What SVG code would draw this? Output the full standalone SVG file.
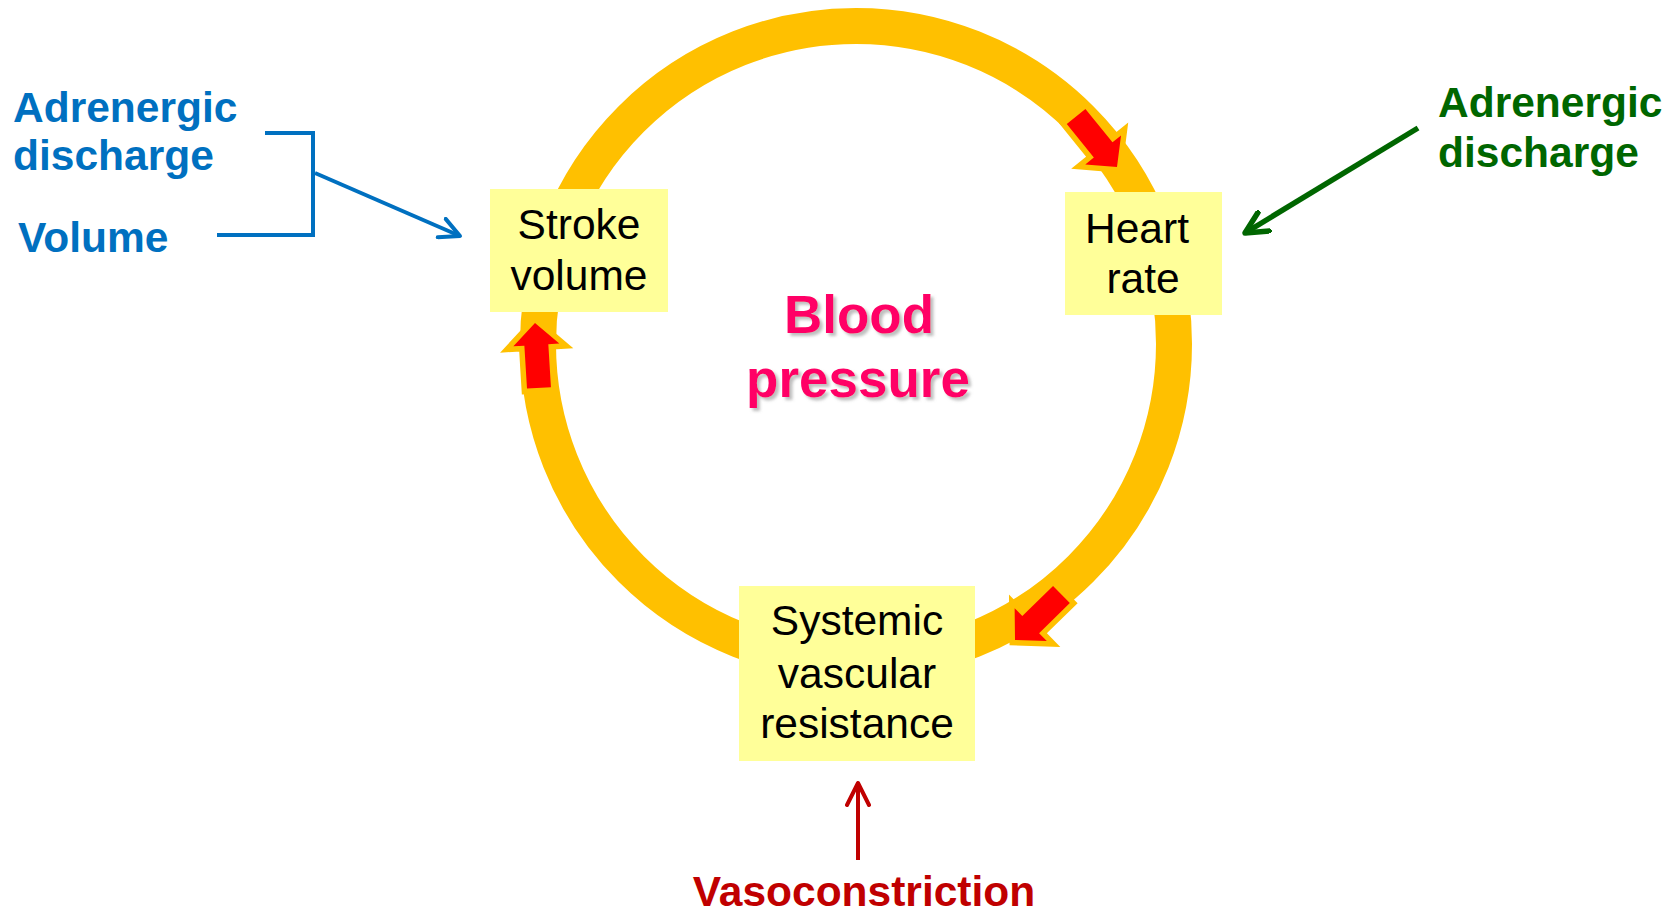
<svg xmlns="http://www.w3.org/2000/svg" width="1675" height="915" viewBox="0 0 1675 915">
<defs>
<style>
.box{fill:#FFFF99}
.nt{font-family:"Liberation Sans",Arial,sans-serif;font-size:42.5px;fill:#000;text-anchor:middle}
.lb{font-family:"Liberation Sans",Arial,sans-serif;font-size:42.5px;font-weight:bold}
.blue{fill:#0070C0}
.green{fill:#006600}
.dred{fill:#C00000}
.bp{font-family:"Liberation Sans",Arial,sans-serif;font-size:53px;font-weight:bold;fill:#FF0066;text-anchor:middle}
.ring{fill:none;stroke:#FFC000;stroke-width:36}
.blk{fill:#FF0000;stroke:#FFC000;stroke-width:11;stroke-linejoin:miter;stroke-miterlimit:6;paint-order:stroke}
</style>
<marker id="mBlue" viewBox="0 0 26 24" markerWidth="26" markerHeight="24" refX="22" refY="12" orient="auto" markerUnits="userSpaceOnUse">
<path d="M2,2 L22,12 L2,22" fill="none" stroke="#0070C0" stroke-width="4" stroke-linecap="round" stroke-linejoin="round"/>
</marker>
<marker id="mGreen" viewBox="0 0 28 26" markerWidth="28" markerHeight="26" refX="24" refY="13" orient="auto" markerUnits="userSpaceOnUse">
<path d="M2,2 L24,13 L2,24" fill="none" stroke="#006600" stroke-width="5.5" stroke-linecap="round" stroke-linejoin="round"/>
</marker>
<marker id="mRed" viewBox="0 0 26 26" markerWidth="26" markerHeight="26" refX="24" refY="13" orient="auto" markerUnits="userSpaceOnUse">
<path d="M2,2 L24,13 L2,24" fill="none" stroke="#C00000" stroke-width="4" stroke-linecap="round" stroke-linejoin="round"/>
</marker>
<filter id="shadow" x="-10%" y="-10%" width="130%" height="140%">
<feDropShadow dx="3" dy="3" stdDeviation="1.5" flood-color="#888" flood-opacity="0.55"/>
</filter>
<path id="blockArrow" d="M0,0 L23,22 L12,22 L12,65 L-12,65 L-12,22 L-23,22 Z"/>
</defs>
<rect width="1675" height="915" fill="#fff"/>

<g id="cycle">
<circle class="ring" cx="856" cy="344" r="318"/>
<use href="#blockArrow" class="blk" transform="translate(535,323) rotate(-3.5)"/>
<use href="#blockArrow" class="blk" transform="translate(1117,167) rotate(141)"/>
<use href="#blockArrow" class="blk" transform="translate(1015,640) rotate(-134.4)"/>
</g>

<g id="connectors">
<polyline points="265,133 313,133 313,235 217,235" fill="none" stroke="#0070C0" stroke-width="4"/>
<line x1="315" y1="173" x2="460" y2="236" stroke="#0070C0" stroke-width="4" marker-end="url(#mBlue)"/>
<line x1="1418" y1="128" x2="1245" y2="233" stroke="#006600" stroke-width="5.5" marker-end="url(#mGreen)"/>
<line x1="858" y1="860" x2="858" y2="783" stroke="#C00000" stroke-width="4" marker-end="url(#mRed)"/>
</g>

<g id="stroke-volume">
<rect class="box" x="490" y="189" width="178" height="123"/>
<text class="nt" x="579" y="239">Stroke</text>
<text class="nt" x="579" y="290">volume</text>
</g>

<g id="heart-rate">
<rect class="box" x="1065" y="192" width="157" height="123"/>
<text class="nt" x="1137" y="243">Heart</text>
<text class="nt" x="1143" y="293">rate</text>
</g>

<g id="svr">
<rect class="box" x="739" y="586" width="236" height="175"/>
<text class="nt" x="857" y="635">Systemic</text>
<text class="nt" x="857" y="688">vascular</text>
<text class="nt" x="857" y="738">resistance</text>
</g>

<g id="blood-pressure" filter="url(#shadow)">
<text class="bp" x="859" y="333">Blood</text>
<text class="bp" x="858" y="397">pressure</text>
</g>

<g id="left-inputs">
<text class="lb blue" x="13" y="122">Adrenergic</text>
<text class="lb blue" x="13" y="170">discharge</text>
<text class="lb blue" x="18" y="252">Volume</text>
</g>

<g id="right-input">
<text class="lb green" x="1438" y="117">Adrenergic</text>
<text class="lb green" x="1438" y="167">discharge</text>
</g>

<g id="bottom-input">
<text class="lb dred" x="864" y="906" text-anchor="middle">Vasoconstriction</text>
</g>
</svg>
